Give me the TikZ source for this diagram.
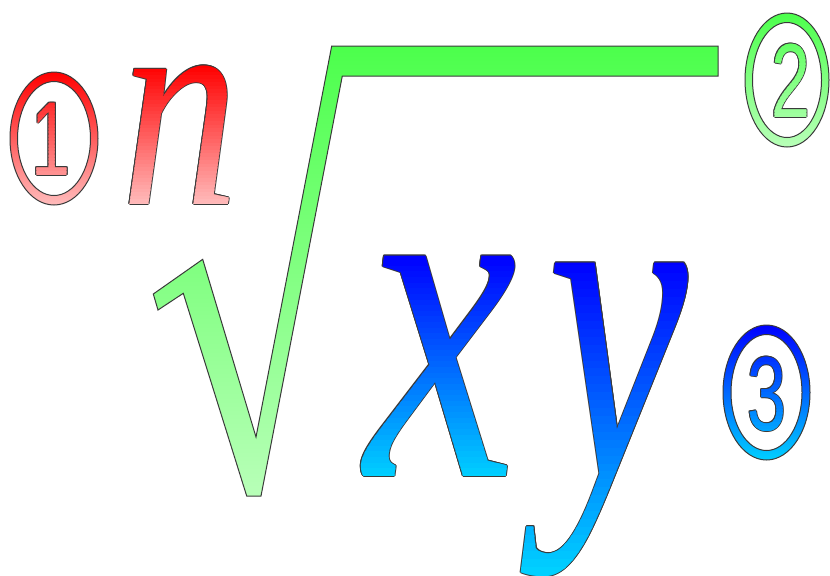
\documentclass[tikz,border=0pt]{standalone}
\usepackage{graphicx}
\usepackage{fontspec}
\usepackage{xcolor}
\usetikzlibrary{calc}
\newfontfamily\letterfont{Liberation Serif Italic}
\newfontfamily\digitfont{Liberation Sans}
\definecolor{Red_Top}{HTML}{FF0000}
\definecolor{Red_Bot}{HTML}{FFBCBC}
\definecolor{Green_Top}{HTML}{4CFF4C}
\definecolor{Green_Bot}{HTML}{B8FFB8}
\definecolor{Blue_Top}{HTML}{0000FF}
\definecolor{Blue_Bot}{HTML}{00D0FF}
\definecolor{Edge_Gray}{HTML}{3A3A3A}
\tikzset{
  glyph/.style={inner sep=0pt, anchor=base},
  ring/.style={even odd rule, draw=Edge_Gray, line width=0.5pt},
}
\newcommand{\bigletter}[3]{\scalebox{#2}[1.5]{\fontsize{#1}{#1}\letterfont #3}}
\newcommand{\ringdigit}[1]{\scalebox{1}[1.5]{\fontsize{35}{35}\digitfont #1}}
% gradient glyph: #1 base point, #2 top y, #3 bottom y, #4 top colour, #5 bottom colour, #6 glyph
\newcommand{\gradglyph}[6]{%
  \foreach \ox/\oy in {0.5/0,-0.5/0,0/0.5,0/-0.5,0.35/0.35,-0.35/0.35,0.35/-0.35,-0.35/-0.35}
    \node[glyph, text=Edge_Gray, xshift=\ox pt, yshift=\oy pt] at (#1) {#6};
  \foreach \i in {0,...,39}{%
    \pgfmathsetmacro{\ya}{\i==0 ? #2-40 : #2+(#3-#2)*\i/40}%
    \pgfmathsetmacro{\yb}{\i==39 ? #3+40 : #2+(#3-#2)*(\i+1)/40+1}%
    \pgfmathsetmacro{\mix}{100-\i*100/39}%
    \begin{scope}
      \clip (-10,\ya) rectangle (840,\yb);
      \node[glyph, text=#4!\mix!#5] at (#1) {#6};
    \end{scope}
  }%
}

\begin{document}
\begin{tikzpicture}[x=0.5pt, y=-0.5pt]
    \useasboundingbox (0,0) rectangle (830,575);

    % radical sign
    \shade[top color=Green_Top, bottom color=Green_Bot, draw=Edge_Gray, line width=0.5pt]
      (331.7,46) -- (256,437) -- (202.7,259.3) -- (153.3,294) -- (158,310) -- (183.3,293.3)
      -- (246.7,496) -- (261,496) -- (342.3,76) -- (718,76) -- (718,46) -- cycle;

    % index n
    \gradglyph{180,204}{65}{207}{Red_Top}{Red_Bot}{\bigletter{98}{1.2}{n}}

    % radicand x y
    \gradglyph{441,476}{255}{480}{Blue_Top}{Blue_Bot}{\bigletter{160}{1.07}{x}}
    \gradglyph{618,476}{258}{575}{Blue_Top}{Blue_Bot}{\bigletter{155}{1.02}{y}}

    % circled markers
    \shade[ring, top color=Red_Top, bottom color=Red_Bot]
      (54,138.5) ellipse [x radius=44, y radius=66.5] (54,138.5) ellipse [x radius=36.5, y radius=57];
    \gradglyph{51,175}{72}{205}{Red_Top}{Red_Bot}{\ringdigit{1}}

    \shade[ring, top color=Green_Top, bottom color=Green_Bot]
      (787,80) ellipse [x radius=42, y radius=67] (787,80) ellipse [x radius=34.5, y radius=57.5];
    \gradglyph{790.5,117}{13}{147}{Green_Top}{Green_Bot}{\ringdigit{2}}

    \shade[ring, top color=Blue_Top, bottom color=Blue_Bot]
      (766.5,392.5) ellipse [x radius=43.5, y radius=67.5] (766.5,392.5) ellipse [x radius=35.5, y radius=58];
    \gradglyph{766.5,430}{325}{460}{Blue_Top}{Blue_Bot}{\ringdigit{3}}
\end{tikzpicture}
\end{document}
